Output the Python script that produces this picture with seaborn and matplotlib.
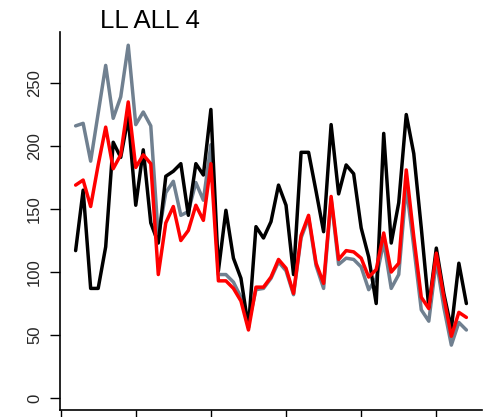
import matplotlib
matplotlib.use("Agg")
import matplotlib.pyplot as plt
import seaborn as sns
import pandas as pd

years = list(range(1952, 2005))
black_vals = [117, 165, 87, 87, 120, 203, 191, 223, 153, 197,
              139, 123, 176, 180, 186, 145, 186, 177, 229, 101,
              149, 111, 95, 56, 136, 127, 140, 169, 153, 98,
              195, 195, 164, 132, 217, 162, 185, 178, 135, 112,
              75, 210, 123, 155, 225, 194, 135, 72, 119, 83,
              55, 107, 75]
grey_vals = [216, 218, 188, 226, 264, 222, 239, 280, 217, 227,
             216, 128, 163, 172, 145, 148, 171, 157, 201, 98,
             98, 92, 80, 59, 86, 87, 95, 108, 101, 82,
             127, 143, 105, 87, 158, 106, 111, 110, 104, 86,
             95, 124, 87, 98, 168, 120, 70, 61, 109, 72,
             42, 60, 54]
red_vals = [169, 173, 152, 185, 215, 182, 193, 235, 183, 193,
            186, 98, 139, 152, 125, 133, 153, 141, 186, 93,
            93, 87, 77, 54, 88, 88, 96, 110, 103, 83,
            129, 145, 107, 91, 160, 110, 117, 116, 111, 96,
            102, 131, 100, 107, 181, 128, 80, 71, 115, 80,
            49, 68, 64]
title = "LL ALL 4"
y_ticks = [0, 50, 100, 150, 200, 250]
x_ticks = [1950, 1960, 1970, 1980, 1990, 2000]

sns.set_theme(style="white")
plt.rcParams["font.family"] = ["Liberation Sans", "DejaVu Sans"]

df = pd.DataFrame({"year": years, "black": black_vals,
                   "grey": grey_vals, "red": red_vals})

fig = plt.figure(figsize=(4.86, 4.17), dpi=100)
ax = fig.add_axes([60 / 486, 7 / 417, 422 / 486, 378 / 417])

lw = 2.5
sns.lineplot(data=df, x="year", y="grey", color="#708090", linewidth=lw, ax=ax)
sns.lineplot(data=df, x="year", y="black", color="black", linewidth=lw, ax=ax)
sns.lineplot(data=df, x="year", y="red", color="#FF0000", linewidth=lw, ax=ax)

ax.set_xlim(1949.92, 2006.08)
ax.set_ylim(-9.5, 290.5)
ax.set_xticks(x_ticks)
ax.set_yticks(y_ticks)
ax.set_xlabel("")
ax.set_ylabel("")
for s in ["top", "right"]:
    ax.spines[s].set_visible(False)
for s in ["left", "bottom"]:
    ax.spines[s].set_color("black")
    ax.spines[s].set_linewidth(1.2)
ax.tick_params(axis="both", direction="out", length=7, width=1.0, color="black",
               left=True, bottom=True)
ax.tick_params(axis="x", labelbottom=False)
ax.tick_params(axis="y", labelsize=12, pad=6, labelrotation=90)
for lbl in ax.get_yticklabels():
    lbl.set_va("center")
ax.set_facecolor("white")

fig.text(150 / 486, 1 - 28 / 417, title, ha="center", va="baseline",
         fontsize=18.5, color="black")

fig.savefig("out.png", dpi=100, facecolor="white")
